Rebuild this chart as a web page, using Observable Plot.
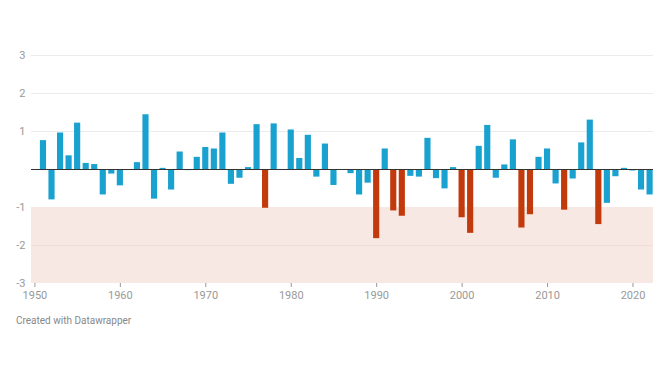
<!DOCTYPE html>
<html>
<head>
<meta charset="utf-8">
<script src="https://cdn.jsdelivr.net/npm/d3@7"></script>
<script src="https://cdn.jsdelivr.net/npm/@observablehq/plot@0.6"></script>
<style>
  body { margin: 0; background: #fff; font-family: Roboto, "Noto Sans", sans-serif; }
  #chart { width: 670px; }
  .caption { font-size: 10px; color: #888; margin: 5px 0 0 16px; }
</style>
</head>
<body>
<div id="chart"></div>
<script>
const years = d3.range(1951, 2023);
const values = [
  0.76, -0.80, 0.96, 0.36, 1.22, 0.16, 0.13, -0.67, -0.12, -0.43,
  0, 0.18, 1.44, -0.78, 0.03, -0.54, 0.46, -0.03, 0.32, 0.58,
  0.54, 0.96, -0.39, -0.23, 0.05, 1.18, -1.02, 1.20, 0, 1.04,
  0.29, 0.90, -0.20, 0.67, -0.42, 0, -0.11, -0.67, -0.36, -1.82,
  0.54, -1.09, -1.23, -0.18, -0.20, 0.82, -0.24, -0.51, 0.05, -1.27,
  -1.68, 0.61, 1.16, -0.23, 0.12, 0.78, -1.54, -1.19, 0.32, 0.54,
  -0.38, -1.07, -0.25, 0.70, 1.30, -1.45, -0.89, -0.19, 0.03, -0.04,
  -0.54, -0.67
];
const yTicks = [-3, -2, -1, 0, 1, 2, 3];
const xTicks = [1950, 1960, 1970, 1980, 1990, 2000, 2010, 2020];
const gridValues = [3, 2, 1, -2];
const threshold = -1;

const data = years.map((year, i) => ({year, value: values[i]}));
const half = 0.36;

const chart = Plot.plot({
  width: 670,
  height: 310,
  marginTop: 55,
  marginBottom: 27,
  marginLeft: 31,
  marginRight: 17,
  style: {fontFamily: "Roboto, sans-serif", fontSize: "11px", color: "#999", background: "#fff"},
  x: {domain: [1949.6, 2022.4], ticks: xTicks, tickFormat: d => String(d), tickSize: 4, tickPadding: 4, label: null},
  y: {domain: [-3, 3], ticks: yTicks, tickFormat: d => d === 0 ? "" : String(d), tickSize: 0, tickPadding: 6, label: null},
  marks: [
    Plot.rect([0], {y1: -3, y2: threshold, fill: "#f7e8e3"}),
    Plot.ruleY(gridValues, {stroke: d => d < threshold ? "#f0ddd6" : "#ebebeb", strokeWidth: 1}),
    Plot.rect(data.filter(d => d.value), {
      x1: d => d.year - half, x2: d => d.year + half,
      y1: 0, y2: "value",
      fill: d => d.value < threshold ? "#c2390b" : "#19a1cf"
    }),
    Plot.ruleY([0], {stroke: "#333", strokeWidth: 1})
  ]
});
document.getElementById("chart").appendChild(chart);
const cap = document.createElement("div");
cap.className = "caption";
cap.textContent = "Created with Datawrapper";
document.getElementById("chart").appendChild(cap);
</script>
</body>
</html>
